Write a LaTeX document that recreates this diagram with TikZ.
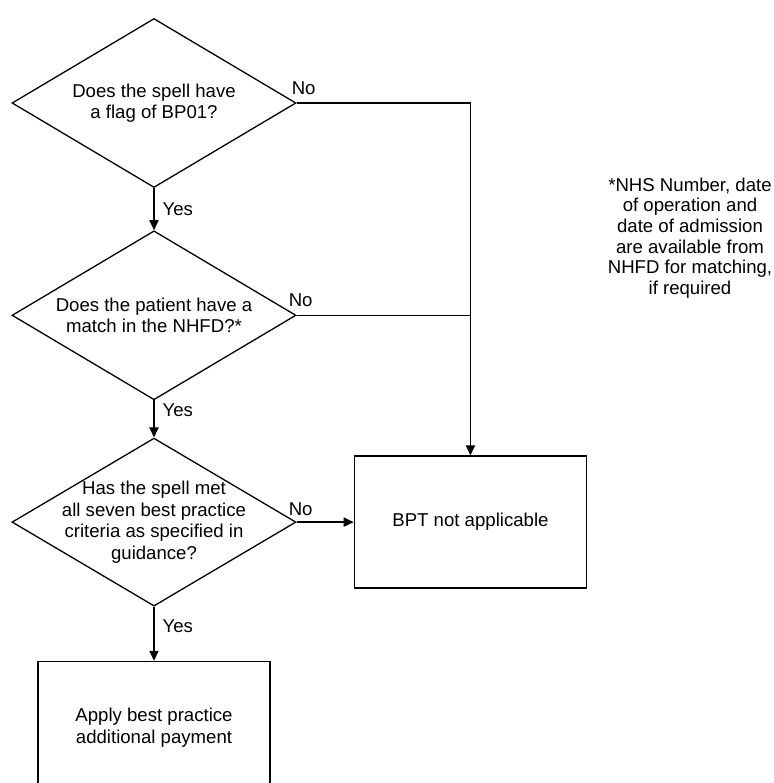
\documentclass[tikz,border=0pt]{standalone}
\usepackage{fontspec}
\setmainfont{Liberation Sans}
\usetikzlibrary{arrows.meta,positioning,shapes.geometric}
\tikzset{
  decisionbox/.style={
    diamond, draw, line width=0.65pt,
    minimum width=142pt, minimum height=84.5pt,
    inner sep=0pt
  },
  qtext/.style={
    font=\fontsize{9.3}{10.7}\selectfont, align=center, inner sep=0pt
  },
  resultbox/.style={
    rectangle, draw, line width=0.8pt,
    minimum width=116pt, minimum height=66pt,
    font=\fontsize{9.3}{10.7}\selectfont, align=center
  },
  flowarrow/.style={
    -{Triangle[length=5pt, width=4.6pt]}, line width=0.65pt
  },
  flowline/.style={line width=0.65pt},
  labelnode/.style={
    font=\fontsize{9.3}{10.7}\selectfont, inner sep=0pt
  },
  notenode/.style={
    font=\fontsize{9.3}{10.3}\selectfont, align=center, inner sep=0pt
  },
}
\begin{document}
\begin{tikzpicture}
\clip (0,0) rectangle (387pt,-391.5pt);

% Decisions
\node[decisionbox, label={[qtext]center:{Does the spell have\\a flag of BP01?}}] (q_flag) at (77pt,-51.5pt) {};
\node[decisionbox, below=21pt of q_flag, label={[qtext]center:{Does the patient have a\\match in the NHFD?*}}] (q_match) {};
\node[decisionbox, below=18.5pt of q_match, minimum height=84pt, label={[qtext]center:{Has the spell met\\all seven best practice\\criteria as specified in\\guidance?}}] (q_crit) {};

% Outcomes
\node[resultbox, right=28.5pt of q_crit] (not_app) {BPT not applicable};
\node[resultbox, below=27pt of q_crit] (apply) {Apply best practice\\additional payment};

% Footnote
\node[notenode] (note) at (345pt,-119pt) {*NHS Number, date\\of operation and\\date of admission\\are available from\\NHFD for matching,\\if required};

% Yes branches
\draw[flowarrow] (q_flag.south) -- (q_match.north)
  node[labelnode, at start, anchor=west, xshift=4pt, yshift=-10.5pt] {Yes};
\draw[flowarrow] (q_match.south) -- (q_crit.north)
  node[labelnode, at start, anchor=west, xshift=4pt, yshift=-5pt] {Yes};
\draw[flowarrow] (q_crit.south) -- (apply.north)
  node[labelnode, at start, anchor=west, xshift=4pt, yshift=-9.5pt] {Yes};

% No branches
\draw[flowarrow] (q_flag.east) -| (not_app.north)
  node[labelnode, at start, xshift=3.5pt, yshift=7.5pt] {No};
\draw[flowline] (q_match.east) -- (q_match.east -| not_app.north)
  node[labelnode, at start, xshift=2pt, yshift=7.5pt] {No};
\draw[flowarrow] (q_crit.east) -- (not_app.west)
  node[labelnode, at start, xshift=2pt, yshift=6.5pt] {No};

\end{tikzpicture}
\end{document}
